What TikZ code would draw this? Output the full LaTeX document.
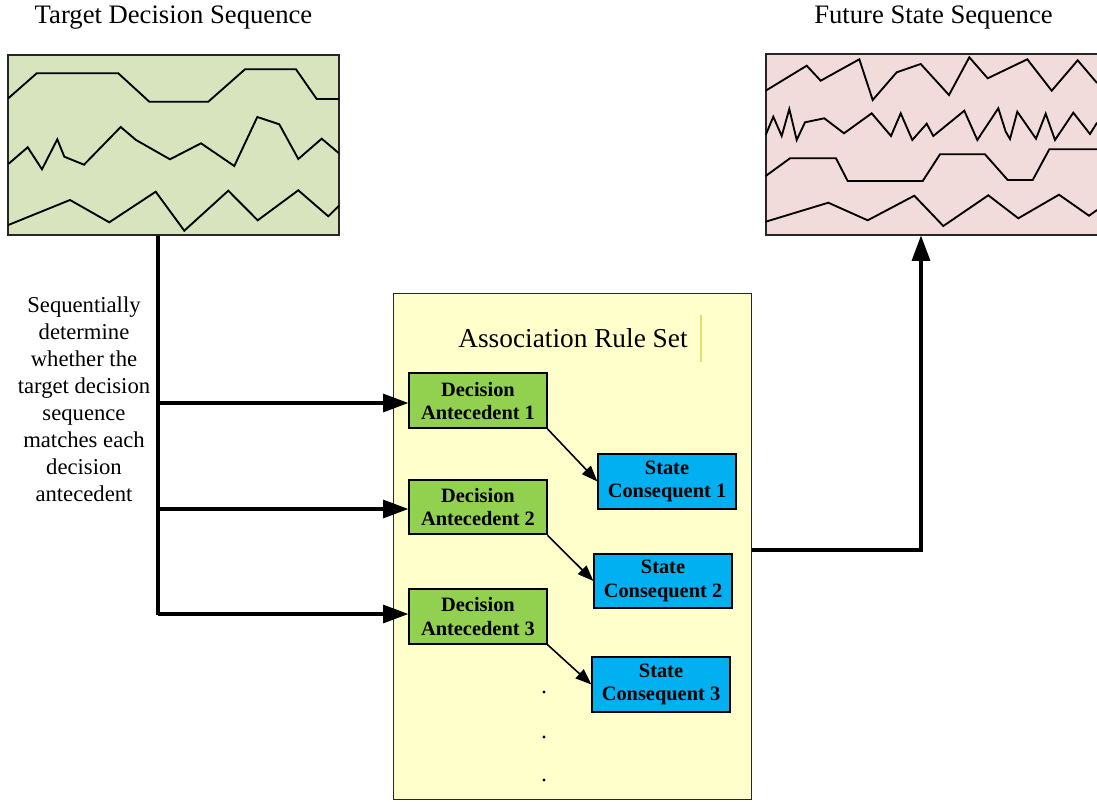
\documentclass[tikz,border=0pt]{standalone}
\usepackage{fontspec}
\setmainfont{Liberation Serif}
\usetikzlibrary{arrows.meta,fit}
\definecolor{seqgreen}{HTML}{D7E4BD}
\definecolor{seqpink}{HTML}{F2DCDB}
\definecolor{ruleyellow}{HTML}{FFFFCC}
\definecolor{decgreen}{HTML}{92D050}
\definecolor{stateblue}{HTML}{00B0F0}
\definecolor{cursorline}{HTML}{E6DC6E}
\tikzset{
  seqbox/.style={draw=black!85, line width=1.5pt, inner sep=0pt},
  wave/.style={line width=1.4pt, line join=miter},
  rulebox/.style={draw=black!85, line width=1.2pt, fill=ruleyellow, inner sep=0pt},
  smallbox/.style={draw=black, line width=1.4pt, inner sep=0pt, align=center,
     minimum width=103pt, minimum height=41pt,
     font=\fontsize{15.3}{17.5}\selectfont\bfseries},
  decbox/.style={smallbox, fill=decgreen},
  statebox/.style={smallbox, fill=stateblue},
  bus/.style={line width=2.3pt},
  busarrow/.style={line width=2.3pt, -{Triangle[length=19pt,width=13.5pt]}},
  smallarrow/.style={line width=1.2pt, -{Triangle[length=12pt,width=9pt]}},
  title/.style={font=\fontsize{20}{24}\selectfont, anchor=base, inner sep=0pt},
}
\begin{document}
\begin{tikzpicture}[x=0.75pt,y=-0.75pt]
\useasboundingbox (0,0) rectangle (1097,801);

% titles
\node[title] (ttl) at (173.5,23) {Target Decision Sequence};
\node[title] (ftl) at (933.5,23) {Future State Sequence};

% sequence boxes
\node[seqbox, fill=seqgreen, fit={(8,54.5) (339,234.5)}] (tds) {};
\node[seqbox, fill=seqpink, fit={(765.5,53.5) (1099,234.5)}] (fss) {};

% target decision waves
\draw[wave] plot coordinates {(8.3,98.3) (36.7,73.3) (118.3,73.3) (149.3,101.7) (208.3,101.7) (245,69.3) (296,69.3) (316.7,99) (339,99)};
\draw[wave] plot coordinates {(8.3,164) (27.7,147.3) (42,169.3) (57.3,139.3) (64.3,156.7) (84,164.7) (120.7,127) (136,140) (170,159.3) (201,143.3) (234.3,166) (257.3,117) (279.3,124.3) (298.3,159) (321.7,138.7) (339,153.3)};
\draw[wave] plot coordinates {(8.3,225) (70,200) (109.3,222.3) (155.7,191.7) (184.3,230.7) (228.3,190.7) (257.7,220.3) (298.3,190.3) (328.3,216.3) (339,205.7)};

% future state waves
\draw[wave] plot coordinates {(765.7,90.7) (806.7,65.7) (820.7,80.7) (859.3,59.3) (872.7,100) (896.7,72.3) (920.7,64) (949,95) (969.3,57.3) (987.7,78.3) (1027.3,59.3) (1051.7,90.7) (1077.7,60.3) (1097,83)};
\draw[wave] plot coordinates {(765.7,135) (773.3,116.7) (781.7,136) (789.3,109) (796.7,140) (805,122.3) (824.3,118.3) (844,133.3) (871.7,113.3) (891,136) (900.7,113.3) (912.3,140) (926.7,123.7) (933.3,136) (964.3,110.7) (977.3,140) (998.3,108.3) (1005.7,131.7) (1010,139) (1017.3,111.7) (1036,138.7) (1045.7,113.7) (1055,140) (1073.3,112.7) (1090,134) (1097,122.7)};
\draw[wave] plot coordinates {(765.7,176) (790,158.3) (836,158.3) (847.7,181) (922.7,181) (940,154.3) (985,154.3) (1007.7,180) (1032.7,180) (1049.3,149.3) (1097,149.3)};
\draw[wave] plot coordinates {(765.7,221.7) (828.3,202.7) (867.7,220.3) (914.3,195.7) (943.3,226) (988.3,195.3) (1018.3,218.3) (1059,194.7) (1089,215.7) (1097,210)};

% association rule set
\node[rulebox, fit={(393.5,293.5) (751.5,799.5)}] (rules) {};
\node[font=\fontsize{20.5}{24}\selectfont, anchor=base, inner sep=0pt] (rtitle) at (573,347) {Association Rule Set};
\draw[cursorline, line width=0.8pt] (701,315) -- (701,362);

\node[decbox] (d1) at (478,400.75) {Decision\\Antecedent 1};
\node[decbox] (d2) at (478,507) {Decision\\Antecedent 2};
\node[decbox] (d3) at (478,616.5) {Decision\\Antecedent 3};

\node[statebox] (s1) at (667,481.5) {State\\Consequent 1};
\node[statebox] (s2) at (663,581) {State\\Consequent 2};
\node[statebox] (s3) at (661,684.5) {State\\Consequent 3};

\draw[smallarrow] (d1.south east) -- (s1.west);
\draw[smallarrow] (d2.south east) -- (s2.west);
\draw[smallarrow] (d3.south east) -- (s3.west);

\foreach \yy in {692,737,780} \fill (544,\yy) circle (1.6);

% left description
\node[align=center, font=\fontsize{17}{20.3}\selectfont, inner sep=0pt] (desc) at (84,399)
  {Sequentially\\determine\\whether the\\target decision\\sequence\\matches each\\decision\\antecedent};

% trunk and arrows
\coordinate (trunk) at (158,615);
\draw[bus] (tds.south -| trunk) -- (trunk);
\draw[busarrow] (trunk |- 0,403) -- (d1.west |- 0,403);
\draw[busarrow] (trunk |- 0,509) -- (d2.west |- 0,509);
\draw[busarrow] (trunk |- 0,614) -- (d3.west |- 0,614);

% output to future states
\coordinate (outc) at (921,550);
\draw[busarrow] (rules.east |- outc) -- (outc) -- (outc |- fss.south);
\end{tikzpicture}
\end{document}
